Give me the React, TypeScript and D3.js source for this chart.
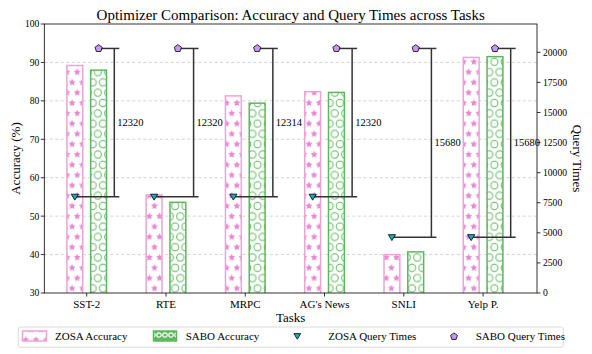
import React from "react";
import * as d3 from "d3";

// values
const tasks = ["SST-2", "RTE", "MRPC", "AG's News", "SNLI", "Yelp P."];
const zosaAcc = [89.2, 55.5, 81.3, 82.4, 40.0, 91.3];
const saboAcc = [88.0, 53.6, 79.4, 82.2, 40.7, 91.5];
const zosaQuery = [8000, 8000, 8006, 8000, 4640, 4640];
const saboQuery = [20320, 20320, 20320, 20320, 20320, 20320];
const accTicks = [30, 40, 50, 60, 70, 80, 90, 100];
const queryTicks = [0, 2500, 5000, 7500, 10000, 12500, 15000, 17500, 20000];

const W = 592;
const H = 354;
const left = 44.3, right = 537, top = 24, bottom = 293;
const FONT = "'Liberation Serif', 'Times New Roman', serif";

const PINK_EDGE = "#eda3d8";
const PINK = "#e68bcf";
const GREEN = "#5cb85c";
const CYAN = "#1aa9ba";
const PURPLE = "#c497f0";

const starPath = (cx: number, cy: number, r: number) => {
  const pts: string[] = [];
  for (let k = 0; k < 10; k++) {
    const a = -Math.PI / 2 + (k * Math.PI) / 5;
    const rr = k % 2 === 0 ? r : r * 0.5;
    pts.push(`${cx + rr * Math.cos(a)},${cy + rr * Math.sin(a)}`);
  }
  return "M" + pts.join("L") + "Z";
};

const pentagon = (cx: number, cy: number, r: number) => {
  const pts: string[] = [];
  for (let k = 0; k < 5; k++) {
    const a = -Math.PI / 2 + (k * 2 * Math.PI) / 5;
    pts.push(`${cx + r * Math.cos(a)},${cy + r * Math.sin(a)}`);
  }
  return "M" + pts.join("L") + "Z";
};

const triDown = (cx: number, cy: number, r: number) =>
  `M${cx - r},${cy - r * 0.7}L${cx + r},${cy - r * 0.7}L${cx},${cy + r * 0.95}Z`;

export default function App() {
  const x = d3.scaleLinear().domain([-0.535, 5.68]).range([left, right]);
  const yA = d3.scaleLinear().domain([30, 100]).range([bottom, top]);
  const yQ = d3.scaleLinear().domain([0, 20320 * 1.1]).range([bottom, top]);
  const off = 0.15;
  const bw = 0.2;
  const sp = 10.3;
  const cells = [[0, 0], [sp, 0], [sp / 2, sp], [0, sp * 2], [sp, sp * 2]];

  return (
    <svg
      width={W}
      height={H}
      style={{ position: "fixed", left: 0, top: 0, background: "#fff" }}
      fontFamily={FONT}
    >
      <defs>
        <pattern id="stars" patternUnits="userSpaceOnUse" width={sp} height={sp * 2}>
          {cells.map(([cx, cy], k) => (
            <path key={k} d={starPath(cx, cy, 3.7)} fill={PINK} />
          ))}
        </pattern>
        <pattern id="circles" patternUnits="userSpaceOnUse" width={sp} height={sp * 2}>
          {cells.map(([cx, cy], k) => (
            <circle key={k} cx={cx} cy={cy} r={3.6} fill="none" stroke={GREEN} strokeWidth={1} />
          ))}
        </pattern>
        <pattern id="circlesLeg" patternUnits="userSpaceOnUse" width={6} height={10}>
          <rect width={6} height={10} fill={GREEN} />
          <circle cx={3} cy={5} r={2.2} fill="none" stroke="#fff" strokeWidth={1.2} />
        </pattern>
        <clipPath id="plot">
          <rect x={left} y={top} width={right - left} height={bottom - top} />
        </clipPath>
      </defs>

      {/* grid */}
      {accTicks.slice(1, -1).map((t) => (
        <line key={t} x1={left} x2={right} y1={yA(t)} y2={yA(t)} stroke="#c8c8c8" strokeWidth={0.8} strokeDasharray="3,2.5" />
      ))}

      {/* bars */}
      <g clipPath="url(#plot)">
        {tasks.map((t, i) => (
          <g key={t}>
            <rect x={x(i - off - bw / 2)} y={yA(zosaAcc[i])} width={x(bw) - x(0)} height={bottom + 2 - yA(zosaAcc[i])} fill="#fff" />
            <rect x={x(i - off - bw / 2)} y={yA(zosaAcc[i])} width={x(bw) - x(0)} height={bottom + 2 - yA(zosaAcc[i])} fill="url(#stars)" stroke={PINK_EDGE} strokeWidth={1.5} />
            <rect x={x(i + off - bw / 2)} y={yA(saboAcc[i])} width={x(bw) - x(0)} height={bottom + 2 - yA(saboAcc[i])} fill="#fff" />
            <rect x={x(i + off - bw / 2)} y={yA(saboAcc[i])} width={x(bw) - x(0)} height={bottom + 2 - yA(saboAcc[i])} fill="url(#circles)" stroke={GREEN} strokeWidth={1.5} />
          </g>
        ))}
      </g>

      {/* query time brackets */}
      {tasks.map((t, i) => {
        const vx = x(i + 0.348);
        const ex = x(i + 0.411);
        const yTop = yQ(saboQuery[i]);
        const yBot = yQ(zosaQuery[i]);
        return (
          <g key={t}>
            <line x1={x(i + off)} x2={ex} y1={yTop} y2={yTop} stroke="#333" strokeWidth={1.5} />
            <line x1={x(i - off)} x2={ex} y1={yBot} y2={yBot} stroke="#333" strokeWidth={1.5} />
            <line x1={vx} x2={vx} y1={yTop} y2={yBot} stroke="#333" strokeWidth={1.5} />
            <text x={x(i + 0.386)} y={(yTop + yBot) / 2} dy="0.35em" fontSize={10.5} fill="#000">
              {saboQuery[i] - zosaQuery[i]}
            </text>
            <path d={triDown(x(i - off), yBot, 3.6)} fill={CYAN} stroke="#000" strokeWidth={0.8} />
            <path d={pentagon(x(i + off), yTop, 3.8)} fill={PURPLE} stroke="#000" strokeWidth={0.8} />
          </g>
        );
      })}

      {/* spines */}
      <rect x={left} y={top} width={right - left} height={bottom - top} fill="none" stroke="#000" strokeWidth={0.8} />

      {/* left axis */}
      {accTicks.map((t) => (
        <g key={t}>
          <line x1={left - 3.5} x2={left} y1={yA(t)} y2={yA(t)} stroke="#000" strokeWidth={0.8} />
          <text x={left - 5} y={yA(t)} dy="0.35em" textAnchor="end" fontSize={9.6}>{t}</text>
        </g>
      ))}
      {/* right axis */}
      {queryTicks.map((t) => (
        <g key={t}>
          <line x1={right} x2={right + 3.5} y1={yQ(t)} y2={yQ(t)} stroke="#000" strokeWidth={0.8} />
          <text x={right + 6} y={yQ(t)} dy="0.35em" textAnchor="start" fontSize={9.6}>{t}</text>
        </g>
      ))}
      {/* x axis */}
      {tasks.map((t, i) => (
        <g key={t}>
          <line x1={x(i)} x2={x(i)} y1={bottom} y2={bottom + 3.5} stroke="#000" strokeWidth={0.8} />
          <text x={x(i)} y={bottom + 14.5} textAnchor="middle" fontSize={11}>{t}</text>
        </g>
      ))}

      {/* labels */}
      <text x={(left + right) / 2} y={19.5} textAnchor="middle" fontSize={15}>
        Optimizer Comparison: Accuracy and Query Times across Tasks
      </text>
      <text x={(left + right) / 2} y={321.5} textAnchor="middle" fontSize={13}>Tasks</text>
      <text transform={`translate(19.5,${(top + bottom) / 2}) rotate(-90)`} textAnchor="middle" fontSize={13}>Accuracy (%)</text>
      <text transform={`translate(572.5,${(top + bottom) / 2}) rotate(90)`} textAnchor="middle" fontSize={13}>Query Times</text>

      {/* legend */}
      <g>
        <rect x={18.3} y={327} width={545} height={20.3} rx={2} fill="#fff" stroke="#d0d0d0" strokeWidth={0.8} />
        <rect x={22.5} y={331} width={24} height={10} fill="url(#stars)" stroke={PINK_EDGE} strokeWidth={1.5} />
        <text x={55} y={336.5} dy="0.35em" fontSize={11}>ZOSA Accuracy</text>
        <rect x={153.5} y={331} width={23} height={10} fill="url(#circlesLeg)" stroke={GREEN} strokeWidth={1.5} />
        <text x={185.7} y={336.5} dy="0.35em" fontSize={11}>SABO Accuracy</text>
        <path d={triDown(297.3, 336, 3.4)} fill={CYAN} stroke="#000" strokeWidth={0.8} />
        <text x={328.3} y={336.5} dy="0.35em" fontSize={11}>ZOSA Query Times</text>
        <path d={pentagon(454, 336.5, 3.6)} fill={PURPLE} stroke="#000" strokeWidth={0.8} />
        <text x={475.7} y={336.5} dy="0.35em" fontSize={11}>SABO Query Times</text>
      </g>
    </svg>
  );
}
